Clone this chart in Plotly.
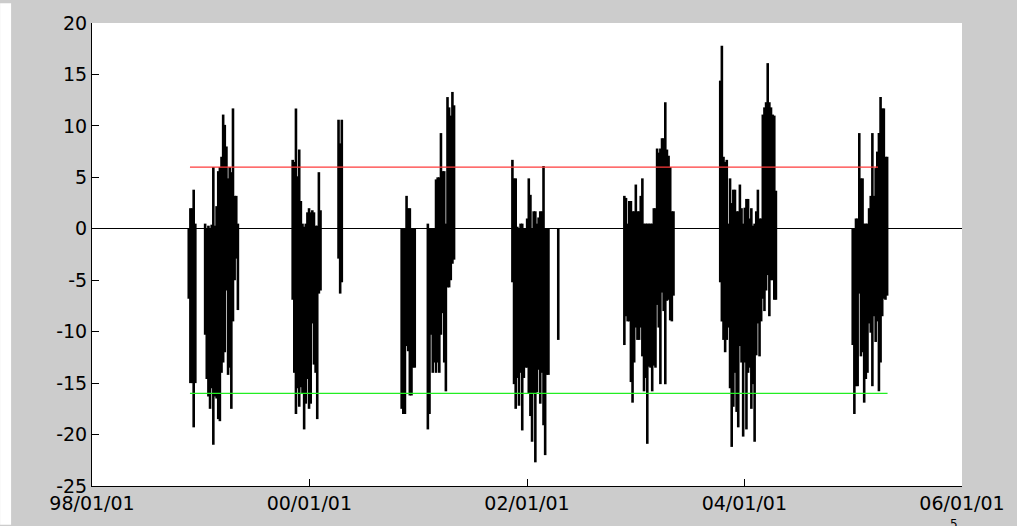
import pandas as pd
import plotly.graph_objects as go

# ---------------- data ----------------
step_days = 5.5

season_starts = ["1998-11-22", "1999-11-06", "2000-11-06", "2001-11-13",
                 "2002-11-24", "2003-10-12", "2004-12-30"]

hi_9899 = [0, 2.0, 2.0, 3.8, 0.5, 0, 0, 0, 0, 0, 0.5, 0, 0.3, 0, 0.4, 6.0, 0.3, 2.2, 5.6,
           6.0, 7.0, 11.1, 10.1, 8.0, 4.9, 6.0, 5.5, 11.7, 3.2, 3.2, 0.5]
lo_9899 = [-6.8, -15.0, -15.0, -19.3, -15.0, 0, 0, 0, 0, 0, -10.3, -14.6, -16.3, -17.5, -15.5,
           -21.0, -16.3, -16.5, -18.5, -18.7, -14.0, -13.0, -12.0, -6.0, -14.2, -13.5, -17.5,
           -9.0, -5.0, -2.9, -7.9]

hi_9900 = [6.7, 6.5, 11.7, 5.1, 7.7, 2.7, 0.5, 0.2, 0.5, 1.6, 2.0, 1.6, 1.8, 1.6, 0.3, 0.3, 5.5,
           1.8, 0, 0, 0, 0, 0, 0, 0, 0, 0, 0, 10.6, 8.3, 10.6]
lo_9900 = [-6.9, -14.0, -18.0, -15.5, -17.3, -15.4, -16.0, -19.5, -17.0, -14.6, -17.5, -17.0,
           -9.2, -13.2, -14.0, -18.5, -6.3, -6.0, 0, 0, 0, 0, 0, 0, 0, 0, 0, 0, -2.9, -6.3, -5.2]

hi_0001 = [0, 0, 0, 3.2, 2.0, 2.0, 0, 0, 0, 0, 0, 0, 0, 0, 0, 0, 0.5, 0, 0, 0, 0, 4.8, 5.0, 5.0,
           9.3, 5.6, 5.6, 0.5, 12.8, 11.8, 11.0, 13.3, 12.0]
lo_0001 = [-17.5, -18.0, -18.0, -11.4, -11.9, -16.2, -16.2, -13.5, -13.5, 0, 0, 0, 0, 0, 0, 0,
           -19.5, -18.0, -10.3, -14.0, -13.0, -14.0, -13.0, -14.0, -10.3, -8.2, -13.0, -15.8,
           -5.7, -5.7, -5.0, -3.4, -3.0]

hi_0102 = [6.7, 4.9, 4.9, 0.2, 0, 0.5, 0.5, 0, 0, 1.0, 4.9, 3.3, 0, 1.7, 1.7, 0.5, 1.1, 1.7, 1.7,
           6.1, 0, 0, 0, 0, 0, 0, 0, 0, 0]
lo_0102 = [-5.2, -15.1, -17.5, -14.5, -17.2, -14.0, -19.6, -14.5, -13.5, -13.5, -16.0, -18.2,
           -20.7, -16.0, -22.7, -15.9, -13.7, -17.0, -14.0, -19.1, -22.0, -14.2, -14.2,
           0, 0, 0, 0, 0, -10.8]

hi_0203 = [3.2, 3.0, 0.5, 2.7, 2.7, 1.7, 1.7, 4.3, 1.7, 1.7, 3.2, 4.9, 0.5, 0.5, 0.5, 0.5, 0.5,
           0.5, 2.0, 2.0, 7.8, 7.4, 7.8, 8.8, 8.8, 12.3, 7.7, 7.1, 6.0, 1.7, 1.7]
lo_0203 = [-11.3, -8.5, -9.0, -9.0, -14.9, -16.9, -13.0, -9.6, -10.8, -10.8, -9.6, -12.4, -15.8,
           -14.5, -20.9, -13.4, -13.5, -15.8, -13.3, -13.5, -7.4, -9.6, -15.1, -6.2, -8.0, -15.1,
           -7.0, -6.9, -8.9, -9.0, -6.5]

hi_0304 = [14.4, 17.8, 7.0, 6.5, 6.7, 0.5, 4.9, 2.5, 3.8, 3.8, 1.7, 1.7, 4.3, 2.0, 0.5, 2.05, 2.9,
           2.9, 1.0, 2.0, 0.3, 0.5, 1.7, 3.8, 1.0, 1.0, 11.1, 11.8, 12.3, 16.1, 12.3, 11.8, 11.1,
           11.0, 3.7]
lo_0304 = [-5.2, -9.0, -10.8, -12.0, -10.8, -9.6, -15.5, -21.2, -17.3, -14.0, -17.8, -19.3, -11.4,
           -13.0, -20.2, -13.0, -19.5, -14.0, -13.5, -17.5, -15.1, -20.7, -12.3, -9.2, -12.4,
           -9.0, -6.8, -8.0, -6.0, -4.5, -8.5, -5.0, -5.0, -6.9, -6.9]

hi_0405 = [0, 0, 1.0, 1.0, 9.3, 4.9, 4.9, 0.5, 0.5, 0.5, 2.0, 3.2, 9.3, 3.2, 5.9, 7.5, 9.3, 12.8,
           11.7, 11.7, 7.0, 7.0]
lo_0405 = [-11.3, -18.0, -15.3, -15.3, -6.3, -12.4, -12.0, -16.9, -14.6, -14.0, -9.2, -10.1,
           -15.3, -8.5, -11.0, -9.0, -15.8, -13.0, -8.5, -6.8, -6.9, -6.5]

upper_level = 6
upper_dates = ["1998-11-26", "2005-03-25"]
lower_level = -16
lower_dates = ["1998-11-26", "2005-04-26"]

x_tick_dates = ["1998-01-01", "2000-01-01", "2002-01-01", "2004-01-01", "2006-01-01"]
x_tick_labels = ["98/01/01", "00/01/01", "02/01/01", "04/01/01", "06/01/01"]
y_tick_vals = [-25, -20, -15, -10, -5, 0, 5, 10, 15, 20]
y_tick_labels = ["-25", "-20", "-15", "-10", "-5", "0", "5", "10", "15", "20"]

# ---------------- build segments ----------------
seasons = [(hi_9899, lo_9899), (hi_9900, lo_9900), (hi_0001, lo_0001), (hi_0102, lo_0102),
           (hi_0203, lo_0203), (hi_0304, lo_0304), (hi_0405, lo_0405)]

xs, ys = [], []
for start, (hi, lo) in zip(season_starts, seasons):
    t0 = pd.Timestamp(start)
    for i, (h, l) in enumerate(zip(hi, lo)):
        if h == 0 and l == 0:
            continue
        t = t0 + pd.Timedelta(days=i * step_days)
        xs += [t, t, None]
        ys += [l, h, None]

fig = go.Figure()
fig.add_trace(go.Scatter(x=xs, y=ys, mode="lines",
                         line=dict(color="black", width=2.6), hoverinfo="skip",
                         showlegend=False))
fig.add_trace(go.Scatter(x=pd.to_datetime(upper_dates), y=[upper_level] * 2, mode="lines",
                         line=dict(color="#ff3b3b", width=1.2), showlegend=False))
fig.add_trace(go.Scatter(x=pd.to_datetime(lower_dates), y=[lower_level] * 2, mode="lines",
                         line=dict(color="#22ee22", width=1.2), showlegend=False))

W, H = 1017, 526
L, R, T, B = 92, 54, 20, 39
pw, ph = W - L - R, H - T - B

font = dict(family="DejaVu Sans", size=19, color="black")

fig.update_layout(
    width=W, height=H,
    margin=dict(l=L, r=R, t=T, b=B, pad=0),
    paper_bgcolor="#cccccc",
    plot_bgcolor="white",
    font=font,
    showlegend=False,
    xaxis=dict(
        type="date",
        range=[x_tick_dates[0], x_tick_dates[-1]],
        tickmode="array", tickvals=x_tick_dates, ticktext=x_tick_labels,
        ticks="inside", ticklen=7, tickwidth=1, tickcolor="black",
        showline=True, linecolor="black", linewidth=1, mirror=False,
        showgrid=False, zeroline=False, tickfont=font,
    ),
    yaxis=dict(
        range=[-25, 20],
        tickmode="array", tickvals=y_tick_vals, ticktext=y_tick_labels,
        ticks="inside", ticklen=7, tickwidth=1, tickcolor="black",
        showline=True, linecolor="black", linewidth=1, mirror=False,
        showgrid=False, zeroline=True, zerolinecolor="black", zerolinewidth=1,
        tickfont=font,
    ),
    shapes=[dict(type="rect", xref="paper", yref="paper",
                 x0=-L / pw, x1=(11 - L) / pw, y0=-B / ph, y1=1 + T / ph,
                 fillcolor="white", line=dict(width=0), layer="below")],
    annotations=[dict(text="5", xref="paper", yref="paper",
                      x=(955 - L) / pw, y=(487 - 516) / ph,
                      xanchor="center", yanchor="top", showarrow=False,
                      font=dict(family="DejaVu Sans", size=12, color="black"))],
)

fig.write_html("out.html", config={"displayModeBar": False},
               post_script="document.body.style.margin='0';document.body.style.padding='0';")
